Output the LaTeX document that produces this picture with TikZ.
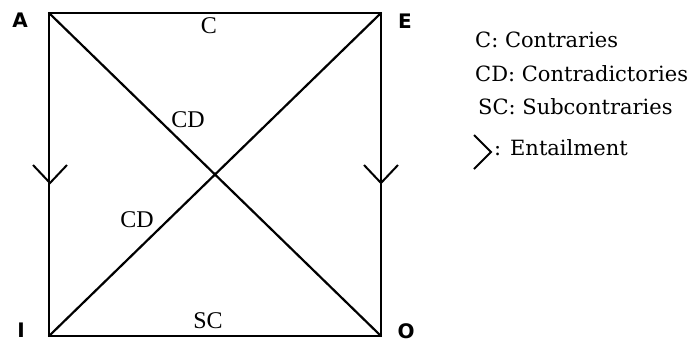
\documentclass[tikz,border=0pt]{standalone}
\usepackage{fontspec}
\setmainfont{Liberation Serif}
\newfontfamily\legendfont{DejaVu Serif}
\newfontfamily\cornerfont{DejaVu Sans}
\begin{document}
\begin{tikzpicture}[x=1pt,y=-1pt,
  edge/.style={line width=2.2pt,line cap=round,line join=round},
  chev/.style={line width=2pt,line join=miter},
  corner/.style={font=\cornerfont\bfseries\fontsize{20}{22}\selectfont,inner sep=0pt},
  rel/.style={font=\fontsize{24}{28}\selectfont,inner sep=0pt,anchor=base},
  leg/.style={font=\legendfont\fontsize{21}{24}\selectfont,inner sep=0pt,anchor=base west}]
\useasboundingbox (0,0) rectangle (688,341);
% corners
\coordinate (A) at (49,13);
\coordinate (E) at (381,13);
\coordinate (I) at (49,336);
\coordinate (O) at (381,336);
\node[corner] (lA) at (20,20) {A};
\node[corner] (lE) at (405,21) {E};
\node[corner] (lI) at (21,330) {I};
\node[corner] (lO) at (406,331) {O};
% square and diagonals
\draw[edge] (A) -- (E);
\draw[edge] (E) -- (O);
\draw[edge] (O) -- (I);
\draw[edge] (I) -- (A);
\draw[edge] (A) -- (O);
\draw[edge] (E) -- (I);
% entailment chevrons
\draw[chev] (33,165) -- (50,183) -- (67,165);
\draw[chev] (364,165) -- (381,183) -- (398,165);
% relation labels
\node[rel] (c) at (209,33) {C};
\node[rel] (cd1) at (188,127) {CD};
\node[rel] (cd2) at (137,227) {CD};
\node[rel] (sc) at (208,328) {SC};
% legend
\node[leg] (l1) at (475,47) {C: Contraries};
\node[leg] (l2) at (475,81) {CD: Contradictories};
\node[leg] (l3) at (478,114) {SC: Subcontraries};
\draw[chev] (474,135) -- (491,152) -- (474,169);
\node[leg] (l4) at (494,155) {: Entailment};
\end{tikzpicture}
\end{document}
